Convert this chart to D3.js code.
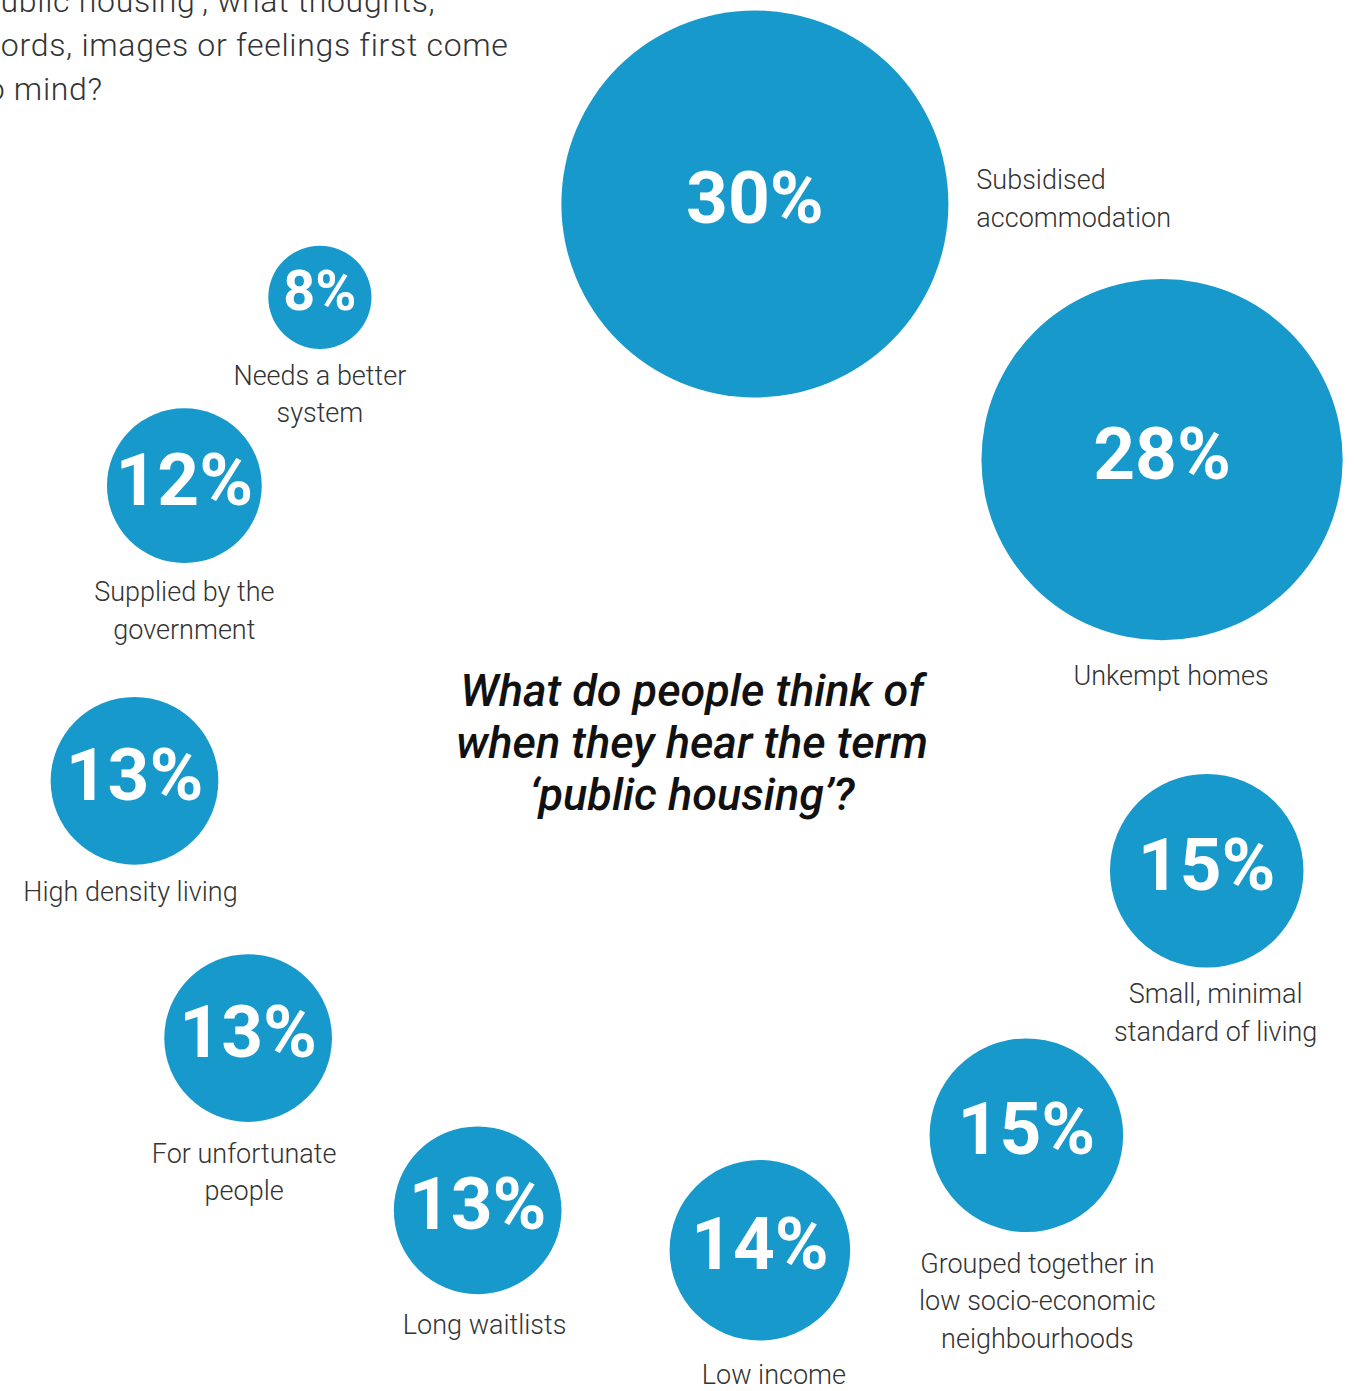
<!DOCTYPE html>
<html>
<head>
<meta charset="utf-8">
<script src="https://cdn.jsdelivr.net/npm/d3@7"></script>
<style>
  html, body { margin: 0; padding: 0; background: #ffffff; }
  svg { display: block; }
</style>
</head>
<body>
<svg id="chart" width="1354" height="1391"></svg>
<script>
// Survey responses: share of people naming each association with "public housing"
const categories = [
  "Subsidised accommodation",
  "Unkempt homes",
  "Small, minimal standard of living",
  "Grouped together in low socio-economic neighbourhoods",
  "Low income",
  "Long waitlists",
  "For unfortunate people",
  "High density living",
  "Supplied by the government",
  "Needs a better system"
];
const values = [30, 28, 15, 15, 14, 13, 13, 13, 12, 8];
const labelLines = [
  ["Subsidised", "accommodation"],
  ["Unkempt homes"],
  ["Small, minimal", "standard of living"],
  ["Grouped together in", "low socio-economic", "neighbourhoods"],
  ["Low income"],
  ["Long waitlists"],
  ["For unfortunate", "people"],
  ["High density living"],
  ["Supplied by the", "government"],
  ["Needs a better", "system"]
];

const questionLines = [
  "\u2018public housing\u2019, what thoughts,",
  "words, images or feelings first come",
  "to mind?"
];
const titleLines = [
  "What do people think of",
  "when they hear the term",
  "\u2018public housing\u2019?"
];

// Ring layout: bubbles sit on a loose ring around the central title
const ringCenter = [690, 740];
const ringAngle = [6.9, 59.3, 104.2, 139.6, 172.2, 204.3, 236.0, 265.8, 296.7, 320.1];
const ringDist  = [540, 549, 533, 519, 515, 516, 533, 557, 566, 577];
const labelSide = ["right", "below", "below", "below", "below", "below", "below", "below", "below", "below"];
const labelDx   = [0, 9, 9, 11, 14, 7, -4, -4, 0, 0];
const labelGap  = [0, 36, 27, 32, 34, 31, 32, 27, 29, 27];

const blue = "#1799cc";
const textColor = "#333333";
const labelFont = "Roboto, 'Open Sans', sans-serif";

const svg = d3.select("#chart");

// bubble radius proportional to the percentage
const rScale = d3.scaleLinear().domain([0, 30]).range([0, 193.5]);

const nodes = values.map((v, i) => {
  const [px, py] = d3.pointRadial(ringAngle[i] * Math.PI / 180, ringDist[i]);
  return {
    value: v,
    name: categories[i],
    lines: labelLines[i],
    side: labelSide[i],
    dx: labelDx[i],
    gap: labelGap[i],
    x: ringCenter[0] + px,
    y: ringCenter[1] + py,
    r: rScale(v)
  };
});

// Question text at top left (continues past the left edge)
svg.append("g")
  .attr("class", "question")
  .selectAll("text")
  .data(questionLines)
  .join("text")
  .attr("x", -24)
  .attr("y", (d, i) => 12 + i * 44)
  .attr("font-family", labelFont)
  .attr("font-weight", 300)
  .attr("font-size", 32)
  .attr("letter-spacing", 0.7)
  .attr("fill", textColor)
  .text(d => d);

const g = svg.append("g").attr("class", "bubbles");

const bubble = g.selectAll("g.bubble")
  .data(nodes)
  .join("g")
  .attr("class", "bubble");

bubble.append("circle")
  .attr("cx", d => d.x)
  .attr("cy", d => d.y)
  .attr("r", d => d.r)
  .attr("fill", blue);

bubble.append("text")
  .attr("x", d => d.x)
  .attr("y", d => d.y - 6)
  .attr("text-anchor", "middle")
  .attr("dominant-baseline", "central")
  .attr("font-family", labelFont)
  .attr("font-weight", 700)
  .attr("font-size", d => Math.min(73, d.r * 1.08))
  .attr("fill", "#ffffff")
  .text(d => d.value + "%");

const lineH = 37.5;

bubble.each(function(d) {
  const sel = d3.select(this);
  const t = sel.append("text")
    .attr("font-family", labelFont)
    .attr("font-weight", 300)
    .attr("font-size", 27)
    .attr("fill", textColor)
    .attr("dominant-baseline", "central");
  if (d.side === "right") {
    const x0 = d.x + d.r + 28;
    const y0 = d.y - 5 - (d.lines.length - 1) * lineH / 2;
    t.attr("text-anchor", "start");
    t.selectAll("tspan").data(d.lines).join("tspan")
      .attr("x", x0)
      .attr("y", (l, i) => y0 + i * lineH)
      .text(l => l);
  } else {
    const x0 = d.x + d.dx;
    const y0 = d.y + d.r + d.gap;
    t.attr("text-anchor", "middle");
    t.selectAll("tspan").data(d.lines).join("tspan")
      .attr("x", x0)
      .attr("y", (l, i) => y0 + i * lineH)
      .text(l => l);
  }
});

// Central title
svg.append("g")
  .attr("class", "title")
  .selectAll("text")
  .data(titleLines)
  .join("text")
  .attr("x", 692)
  .attr("y", (d, i) => 690 + i * 52)
  .attr("text-anchor", "middle")
  .attr("dominant-baseline", "central")
  .attr("font-family", labelFont)
  .attr("font-style", "italic")
  .attr("font-weight", 500)
  .attr("font-size", 45)
  .attr("fill", "#111111")
  .text(d => d);
</script>
</body>
</html>
